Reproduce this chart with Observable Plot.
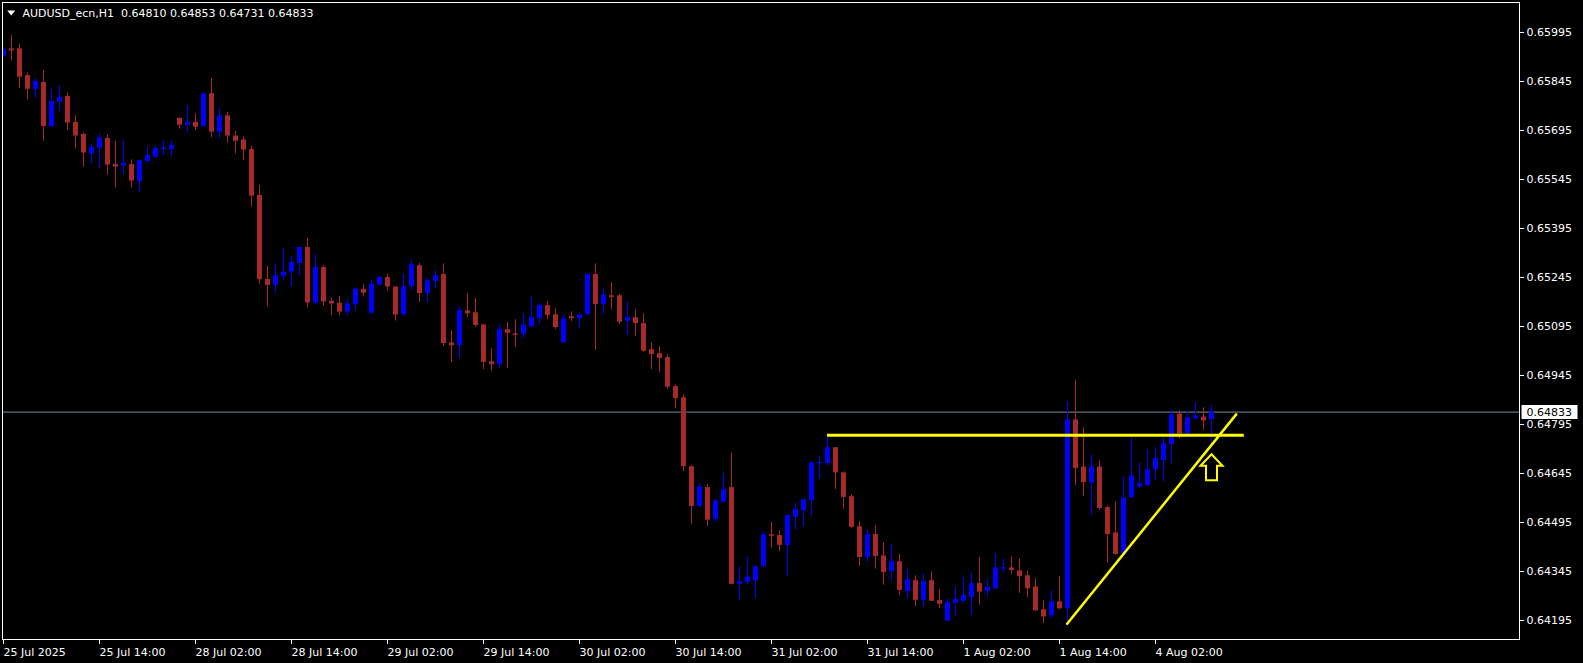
<!DOCTYPE html>
<html><head><meta charset="utf-8">
<script src="https://cdn.jsdelivr.net/npm/d3@7"></script>
<script src="https://cdn.jsdelivr.net/npm/@observablehq/plot@0.6"></script>
<style>
html,body{margin:0;padding:0;background:#000;overflow:hidden;}
#chart svg{display:block;}
</style></head><body><div id="chart"></div>
<script>
// ---- data ----
const symbolName = "AUDUSD_ecn,H1";
const opens = [
0.65922,0.65945,0.65945,0.65863,0.65821,0.65842,0.65707,0.65782,0.65799,0.65720,
0.65683,0.65623,0.65641,0.65671,0.65591,0.65586,0.65591,0.65539,0.65600,0.65613,
0.65638,0.65637,0.65732,0.65711,0.65720,0.65708,0.65808,0.65690,0.65740,0.65678,
0.65666,0.65637,0.65496,0.65239,0.65221,0.65249,0.65262,0.65288,0.65337,0.65167,
0.65276,0.65172,0.65166,0.65139,0.65162,0.65209,0.65136,0.65222,0.65245,0.65216,
0.65131,0.65218,0.65281,0.65196,0.65233,0.65254,0.65045,0.65037,0.65143,0.65137,
0.65100,0.64987,0.64978,0.65085,0.65073,0.65071,0.65095,0.65119,0.65159,0.65131,
0.65045,0.65125,0.65119,0.65131,0.65254,0.65162,0.65189,0.65189,0.65111,0.65122,
0.65104,0.65024,0.65012,0.65000,0.64911,0.64877,0.64666,0.64544,0.64602,0.64505,
0.64557,0.64602,0.64306,0.64312,0.64316,0.64361,0.64458,0.64455,0.64425,0.64511,
0.64531,0.64562,0.64676,0.64676,0.64724,0.64647,0.64574,0.64482,0.64388,0.64458,
0.64393,0.64345,0.64375,0.64284,0.64317,0.64257,0.64317,0.64256,0.64193,0.64248,
0.64254,0.64266,0.64308,0.64284,0.64292,0.64353,0.64356,0.64347,0.64332,0.64298,
0.64228,0.64210,0.64252,0.64231,0.64809,0.64665,0.64616,0.64665,0.64541,0.64463,
0.64398,0.64571,0.64604,0.64608,0.64657,0.64685,0.64734,0.64827,0.64766,0.64812,
0.64818,0.64810];
const highs = [
0.65945,0.65986,0.65960,0.65871,0.65853,0.65879,0.65821,0.65832,0.65810,0.65740,
0.65687,0.65652,0.65686,0.65682,0.65662,0.65665,0.65605,0.65605,0.65644,0.65648,
0.65662,0.65662,0.65734,0.65769,0.65746,0.65809,0.65854,0.65763,0.65750,0.65692,
0.65675,0.65647,0.65527,0.65279,0.65285,0.65334,0.65310,0.65337,0.65365,0.65316,
0.65282,0.65181,0.65187,0.65178,0.65214,0.65224,0.65236,0.65248,0.65255,0.65216,
0.65254,0.65299,0.65289,0.65243,0.65265,0.65287,0.65082,0.65155,0.65195,0.65180,
0.65100,0.65027,0.65100,0.65107,0.65116,0.65134,0.65185,0.65165,0.65171,0.65149,
0.65130,0.65140,0.65134,0.65259,0.65287,0.65210,0.65229,0.65195,0.65171,0.65146,
0.65134,0.65045,0.65033,0.65009,0.64917,0.64886,0.64669,0.64616,0.64610,0.64565,
0.64646,0.64708,0.64359,0.64390,0.64363,0.64467,0.64496,0.64469,0.64520,0.64555,
0.64565,0.64683,0.64699,0.64759,0.64724,0.64650,0.64580,0.64497,0.64473,0.64485,
0.64433,0.64427,0.64397,0.64351,0.64332,0.64338,0.64344,0.64290,0.64262,0.64296,
0.64327,0.64342,0.64388,0.64320,0.64399,0.64383,0.64390,0.64384,0.64347,0.64322,
0.64255,0.64286,0.64329,0.64864,0.64931,0.64785,0.64702,0.64684,0.64546,0.64558,
0.64635,0.64757,0.64677,0.64717,0.64723,0.64754,0.64840,0.64837,0.64837,0.64861,
0.64846,0.64853];
const lows = [
0.65918,0.65907,0.65823,0.65789,0.65794,0.65662,0.65703,0.65753,0.65695,0.65638,
0.65583,0.65592,0.65580,0.65558,0.65519,0.65561,0.65519,0.65506,0.65593,0.65611,
0.65619,0.65613,0.65699,0.65687,0.65695,0.65703,0.65673,0.65669,0.65656,0.65623,
0.65604,0.65461,0.65224,0.65155,0.65197,0.65238,0.65216,0.65249,0.65152,0.65161,
0.65157,0.65128,0.65128,0.65128,0.65143,0.65185,0.65131,0.65219,0.65204,0.65112,
0.65129,0.65205,0.65169,0.65169,0.65211,0.65034,0.64985,0.64997,0.65122,0.65092,
0.64963,0.64958,0.64966,0.64966,0.65031,0.65058,0.65088,0.65100,0.65116,0.65085,
0.65045,0.65110,0.65088,0.65129,0.65022,0.65131,0.65146,0.65100,0.65068,0.65064,
0.65016,0.64963,0.64954,0.64902,0.64843,0.64651,0.64489,0.64541,0.64483,0.64495,
0.64555,0.64304,0.64257,0.64306,0.64263,0.64355,0.64416,0.64406,0.64330,0.64471,
0.64483,0.64511,0.64629,0.64667,0.64596,0.64535,0.64477,0.64361,0.64373,0.64352,
0.64303,0.64315,0.64272,0.64263,0.64238,0.64238,0.64254,0.64232,0.64193,0.64208,
0.64245,0.64211,0.64242,0.64266,0.64290,0.64340,0.64336,0.64278,0.64265,0.64223,
0.64186,0.64200,0.64228,0.64192,0.64608,0.64574,0.64516,0.64532,0.64370,0.64395,
0.64396,0.64569,0.64598,0.64606,0.64625,0.64620,0.64675,0.64751,0.64764,0.64809,
0.64778,0.64731];
const closes = [
0.65942,0.65941,0.65858,0.65821,0.65845,0.65707,0.65784,0.65796,0.65718,0.65678,
0.65626,0.65643,0.65671,0.65589,0.65583,0.65594,0.65540,0.65603,0.65619,0.65640,
0.65641,0.65649,0.65711,0.65720,0.65705,0.65808,0.65690,0.65740,0.65678,0.65662,
0.65635,0.65494,0.65238,0.65221,0.65250,0.65261,0.65291,0.65337,0.65167,0.65276,
0.65170,0.65164,0.65139,0.65164,0.65209,0.65197,0.65224,0.65245,0.65216,0.65130,
0.65216,0.65284,0.65196,0.65235,0.65250,0.65043,0.65036,0.65143,0.65134,0.65098,
0.64985,0.64978,0.65085,0.65074,0.65071,0.65099,0.65122,0.65159,0.65129,0.65092,
0.65118,0.65119,0.65130,0.65254,0.65162,0.65191,0.65184,0.65108,0.65122,0.65104,
0.65019,0.65009,0.64997,0.64909,0.64874,0.64666,0.64544,0.64604,0.64502,0.64561,
0.64595,0.64306,0.64314,0.64328,0.64359,0.64457,0.64453,0.64425,0.64516,0.64534,
0.64565,0.64677,0.64678,0.64724,0.64647,0.64572,0.64480,0.64388,0.64458,0.64391,
0.64342,0.64375,0.64287,0.64320,0.64257,0.64314,0.64254,0.64245,0.64250,0.64259,
0.64272,0.64308,0.64282,0.64296,0.64356,0.64356,0.64348,0.64329,0.64292,0.64225,
0.64206,0.64252,0.64231,0.64809,0.64660,0.64617,0.64665,0.64538,0.64458,0.64397,
0.64570,0.64638,0.64613,0.64656,0.64690,0.64736,0.64824,0.64766,0.64815,0.64821,
0.64806,0.64833];
const timeTickBars = [0,12,24,36,48,60,72,84,96,108,120,132,144];
const timeTickLabels = ["25 Jul 2025","25 Jul 14:00","28 Jul 02:00","28 Jul 14:00","29 Jul 02:00",
  "29 Jul 14:00","30 Jul 02:00","30 Jul 14:00","31 Jul 02:00","31 Jul 14:00","1 Aug 02:00",
  "1 Aug 14:00","4 Aug 02:00"];
const priceTicks = [0.65995,0.65845,0.65695,0.65545,0.65395,0.65245,0.65095,0.64945,0.64795,0.64645,0.64495,0.64345,0.64195];
const resistance = [{price:0.64762, fromBar:103, toBar:155.1}];
const trendline = [{bar:132.96, price:0.64185},{bar:154.09, price:0.64826}];
const arrowMark = [{bar:151, price:0.64664}];

// ---- build ----
const last = closes.length - 1;
const bars = opens.map((o,i)=>({i, open:o, high:highs[i], low:lows[i], close:closes[i]}));
const bull = bars.filter(d => d.close >= d.open);
const bear = bars.filter(d => d.close < d.open);
const BULL = "#0000ff", BEAR = "#a52a2a";
const isDoji = d => Math.abs(d.close - d.open) < 0.00004;
const labelByBar = new Map(timeTickBars.map((b,k)=>[b, timeTickLabels[k]]));
const fmt = d3.format(".5f");

const arrowSymbol = {draw(ctx){
  ctx.moveTo(0,-13); ctx.lineTo(11,-1.5); ctx.lineTo(5.5,-1.5); ctx.lineTo(5.5,13);
  ctx.lineTo(-5.5,13); ctx.lineTo(-5.5,-1.5); ctx.lineTo(-11,-1.5); ctx.closePath();
}};
const triDown = {draw(ctx){ ctx.moveTo(-4,-2.5); ctx.lineTo(4,-2.5); ctx.lineTo(0,2.5); ctx.closePath(); }};
const boxSymbol = {draw(ctx){ ctx.rect(-28,-7,56,14); }};

const candleMarks = (data, col) => [
  Plot.ruleX(data, {x:"i", y1:"low", y2:"high", stroke:col, strokeWidth:1, clip:true}),
  Plot.ruleX(data, {x:"i", y1:"open", y2:"close", stroke:col, strokeWidth:5, clip:true}),
  Plot.ruleY(data.filter(isDoji), {y:"close", x1:d=>d.i-0.3125, x2:d=>d.i+0.3125, stroke:col, clip:true})
];

const chart = Plot.plot({
  width:1583, height:663,
  marginLeft:2, marginRight:64, marginTop:2, marginBottom:24,
  style:{background:"#000", color:"#fff", fontFamily:"DejaVu Sans", fontSize:"11px"},
  x:{type:"linear", domain:[-0.125, 189.5]},
  y:{type:"linear", domain:[0.641369, 0.660868]},
  marks:[
    Plot.ruleY([closes[last]], {stroke:"#778899"}),
    ...candleMarks(bear, BEAR),
    ...candleMarks(bull, BULL),
    Plot.ruleY(resistance, {y:"price", x1:"fromBar", x2:"toBar", stroke:"#ffff00", strokeWidth:3}),
    Plot.line(trendline, {x:"bar", y:"price", stroke:"#ffff00", strokeWidth:2.5}),
    Plot.dot(arrowMark, {x:"bar", y:"price", symbol:arrowSymbol, stroke:"#ffff00", strokeWidth:2, fill:"none"}),
    Plot.frame({stroke:"#fff"}),
    Plot.axisY({anchor:"right", ticks:priceTicks, tickFormat:fmt, tickSize:4, tickPadding:3, label:null, fontSize:11, fill:"#fff"}),
    Plot.axisX({anchor:"bottom", ticks:timeTickBars, tickFormat:d=>labelByBar.get(d), tickSize:5, tickPadding:4, textAnchor:"start", label:null, fontSize:11, fill:"#fff"}),
    Plot.dot([closes[last]], {y:d=>d, frameAnchor:"right", dx:30, symbol:boxSymbol, fill:"#fff", stroke:null}),
    Plot.text([closes[last]], {y:d=>d, frameAnchor:"right", dx:7, textAnchor:"start", text:d=>fmt(d), fill:"#000", fontSize:11}),
    Plot.dot([0], {frameAnchor:"top-left", dx:8.7, dy:10.5, symbol:triDown, fill:"#fff", stroke:null}),
    Plot.text([`${symbolName}  ${fmt(opens[last])} ${fmt(highs[last])} ${fmt(lows[last])} ${fmt(closes[last])}`],
      {frameAnchor:"top-left", dx:20, dy:10.5, lineAnchor:"middle", textAnchor:"start", fill:"#fff", fontSize:11})
  ]
});
document.getElementById("chart").appendChild(chart);
</script></body></html>
